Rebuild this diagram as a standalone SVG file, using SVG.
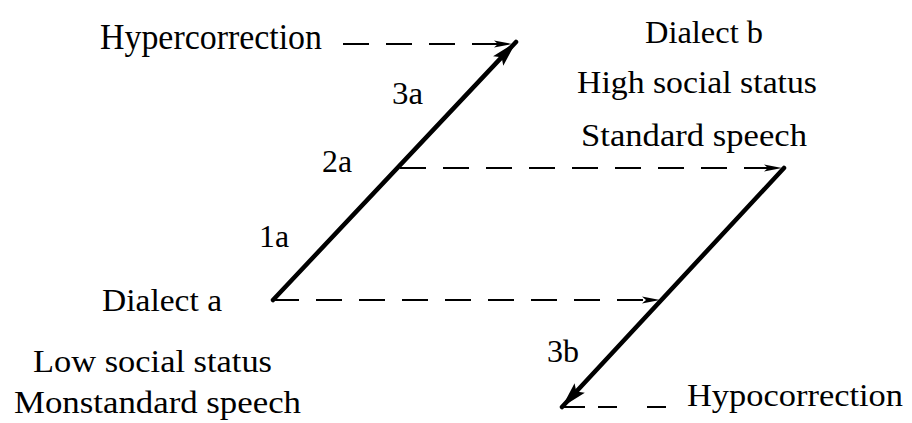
<svg xmlns="http://www.w3.org/2000/svg" width="912" height="423" viewBox="0 0 912 423">
<style>
text{font-family:"Liberation Serif","DejaVu Serif","Times New Roman",serif;fill:#000;font-size:32px}
text.big{font-size:36px}
.main{stroke:#000;stroke-width:4.5;fill:none;stroke-linecap:round}
.dash{stroke:#000;stroke-width:2;fill:none;stroke-dasharray:26 17}
</style>
<defs>
<marker id="big" markerUnits="userSpaceOnUse" markerWidth="30" markerHeight="16" refX="26" refY="8" orient="auto">
<path d="M0,1 L26,8 L0,15 L5,8 Z" fill="#000"/>
</marker>
<marker id="small" markerUnits="userSpaceOnUse" markerWidth="20" markerHeight="10" refX="18" refY="5" orient="auto">
<path d="M0,1.5 L18,5 L0,8.5 L4,5 Z" fill="#000"/>
</marker>
</defs>
<g id="connectors">
<line class="main" x1="273" y1="300" x2="516" y2="42" marker-end="url(#big)"/>
<line class="main" x1="784" y1="168" x2="562" y2="407" marker-end="url(#big)"/>
<line class="dash" x1="343" y1="44" x2="512" y2="44" marker-end="url(#small)"/>
<line class="dash" x1="400" y1="168" x2="782" y2="168" marker-end="url(#small)"/>
<line class="dash" x1="273" y1="300" x2="660" y2="300" marker-end="url(#small)"/>
<line class="dash" x1="562" y1="407" x2="666" y2="407" style="stroke-dasharray:23 13 19 30 20 100"/>
</g>
<g id="hypercorrection"><text class="big" x="100" y="49" textLength="222" lengthAdjust="spacingAndGlyphs">Hypercorrection</text></g>
<g id="dialect-b">
<text x="645" y="43" textLength="118" lengthAdjust="spacingAndGlyphs">Dialect b</text>
<text x="577" y="93" textLength="240" lengthAdjust="spacingAndGlyphs">High social status</text>
<text x="581" y="146" textLength="226" lengthAdjust="spacingAndGlyphs">Standard speech</text>
</g>
<g id="label-3a"><text x="392" y="104" textLength="31" lengthAdjust="spacingAndGlyphs">3a</text></g>
<g id="label-2a"><text x="322" y="172" textLength="30" lengthAdjust="spacingAndGlyphs">2a</text></g>
<g id="label-1a"><text x="259" y="247" textLength="30" lengthAdjust="spacingAndGlyphs">1a</text></g>
<g id="label-3b"><text x="547" y="362" textLength="32" lengthAdjust="spacingAndGlyphs">3b</text></g>
<g id="dialect-a">
<text x="102" y="311" textLength="120" lengthAdjust="spacingAndGlyphs">Dialect a</text>
<text x="33" y="372" textLength="239" lengthAdjust="spacingAndGlyphs">Low social status</text>
<text x="14" y="413" textLength="287" lengthAdjust="spacingAndGlyphs">Monstandard speech</text>
</g>
<g id="hypocorrection"><text x="687" y="406" textLength="216" lengthAdjust="spacingAndGlyphs">Hypocorrection</text></g>
</svg>
